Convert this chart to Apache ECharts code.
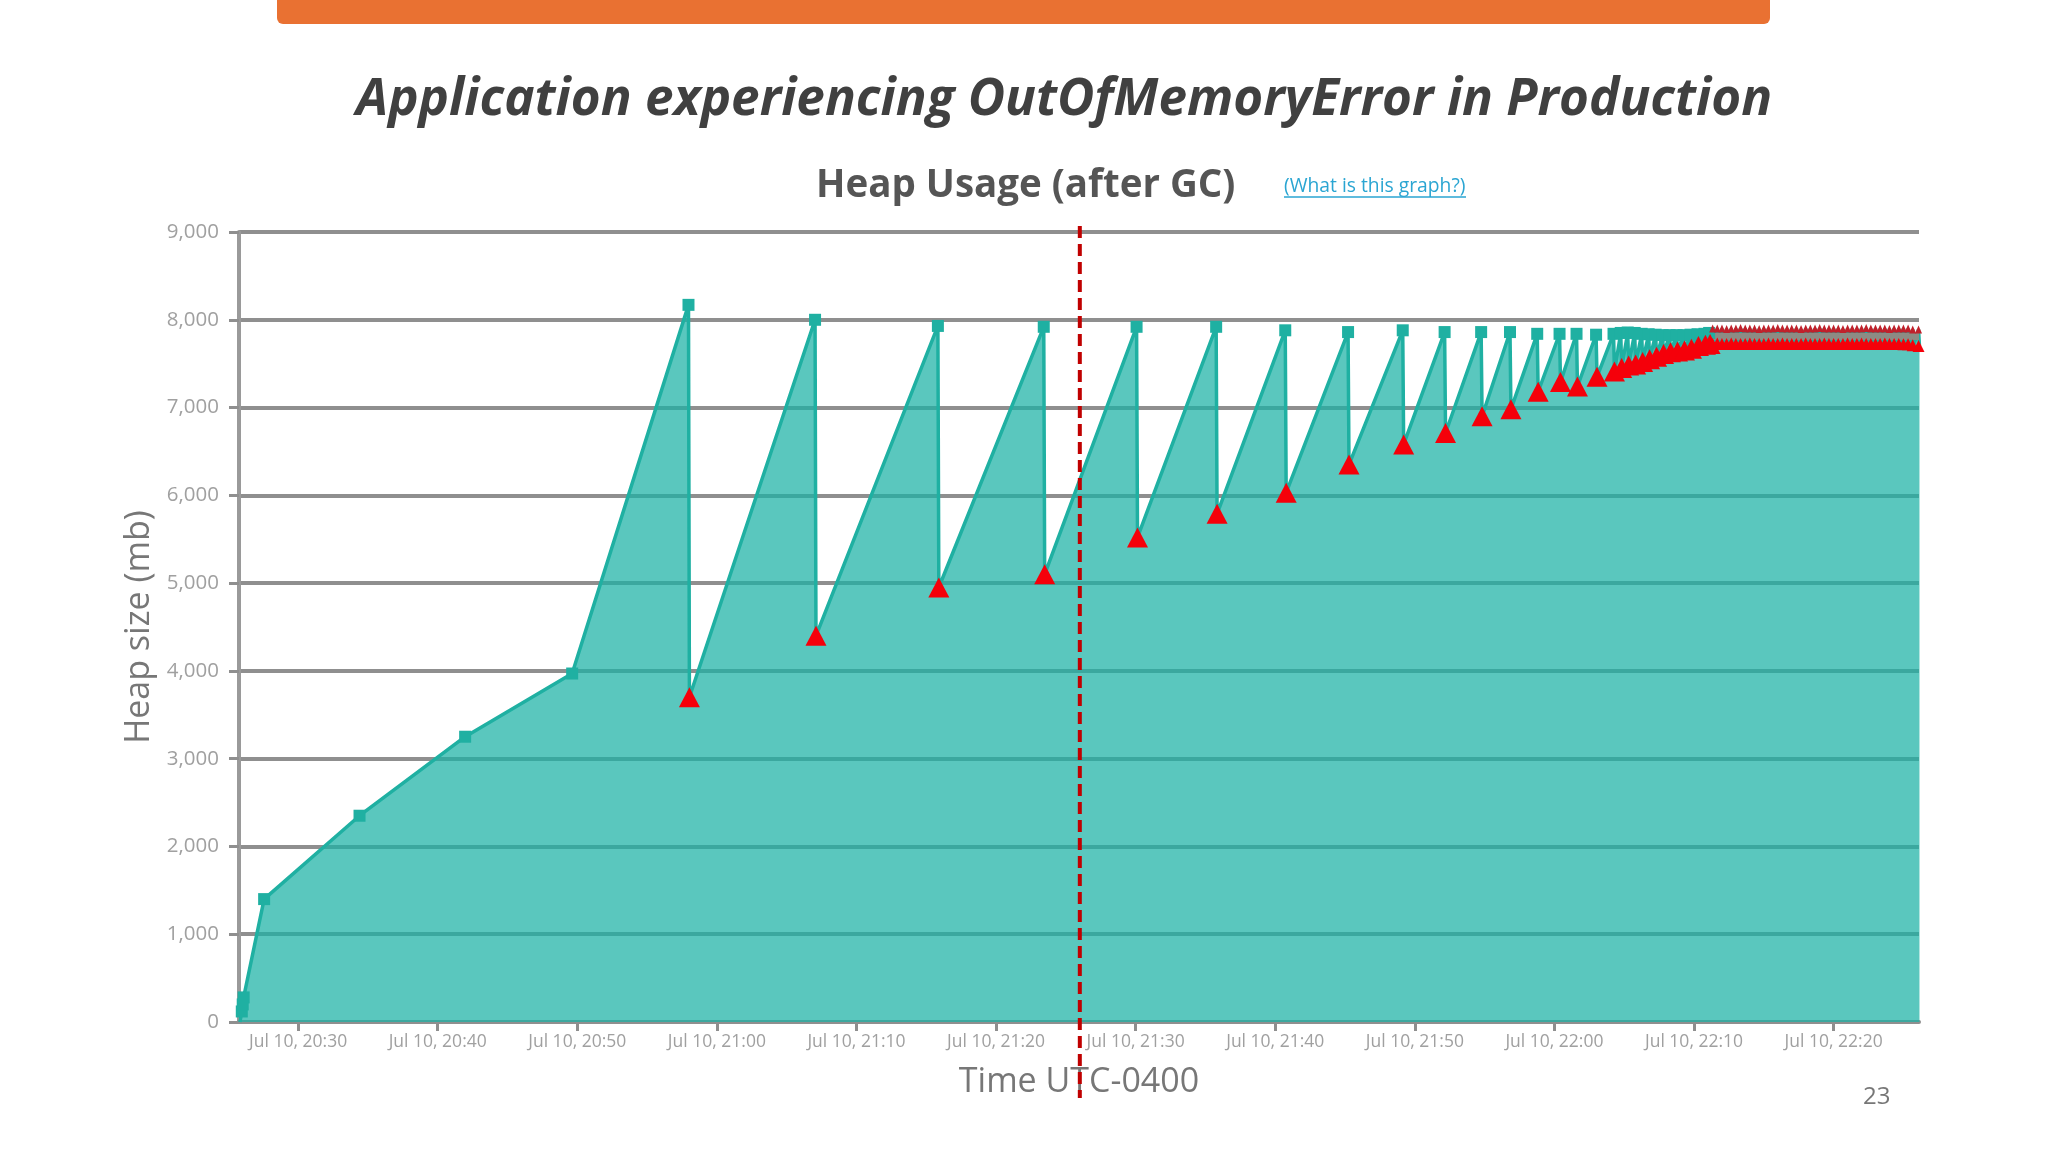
<!DOCTYPE html>
<html>
<head>
<meta charset="utf-8">
<style>
  html, body { margin: 0; padding: 0; background: #fff; }
  #myChart { width: 2048px; height: 1152px; }
</style>
<script src="https://cdn.jsdelivr.net/npm/echarts@6/dist/echarts.min.js"></script>
</head>
<body>
<div id="myChart"></div>
<script>
const DAY = "2023-07-10T";
const AXIS_START = "20:25:46";
const AXIS_END = "22:26:07";
const MARKER_TIME = "21:26:00";

const xTickTimes = [
    "20:30:00", "20:40:00", "20:50:00", "21:00:00", "21:10:00", "21:20:00",
    "21:30:00", "21:40:00", "21:50:00", "22:00:00", "22:10:00", "22:20:00",
];
const yTicks = { min: 0, max: 9000, step: 1000 };

// readings before GC
const heapTimes = [
    "20:25:50", "20:25:58", "20:26:02", "20:26:06", "20:27:34", "20:34:24", "20:41:58", "20:49:38",
    "20:57:58", "21:07:02", "21:15:50", "21:23:25", "21:30:04", "21:35:46", "21:40:43", "21:45:13",
    "21:49:08", "21:52:08", "21:54:45", "21:56:49", "21:58:46", "22:00:22", "22:01:35", "22:02:59",
    "22:04:14", "22:04:45", "22:05:15", "22:05:45", "22:06:15", "22:06:45", "22:07:15", "22:07:45",
    "22:08:15", "22:08:45", "22:09:15", "22:09:45", "22:10:15", "22:10:45", "22:11:05",
];
const heapValues = [
    0, 120, 200, 280, 1400, 2350, 3250, 3970,
    8170, 8000, 7930, 7920, 7920, 7920, 7880, 7860,
    7880, 7860, 7860, 7860, 7840, 7840, 7840, 7830,
    7840, 7850, 7855, 7850, 7840, 7835, 7830, 7825,
    7825, 7825, 7825, 7830, 7835, 7840, 7850,
];

// readings after GC (triangles)
const gcTimes = [
    "20:58:02", "21:07:06", "21:15:54", "21:23:29", "21:30:08", "21:35:50", "21:40:47", "21:45:17",
    "21:49:12", "21:52:12", "21:54:49", "21:56:53", "21:58:50", "22:00:26", "22:01:39", "22:03:03",
    "22:04:18", "22:04:49", "22:05:19", "22:05:49", "22:06:19", "22:06:49", "22:07:19", "22:07:49",
    "22:08:19", "22:08:49", "22:09:19", "22:09:49", "22:10:19", "22:10:49", "22:11:09",
];
const gcValues = [
    3700, 4400, 4950, 5100, 5520, 5790, 6030, 6350,
    6580, 6710, 6900, 6980, 7180, 7290, 7240, 7350,
    7410, 7450, 7480, 7490, 7520, 7550, 7580, 7610,
    7630, 7640, 7650, 7670, 7700, 7715, 7725,
];

// flat part at the end, one peak and one low per reading
const tailTimes = [
    "22:11:20", "22:11:40", "22:12:00", "22:12:20", "22:12:40", "22:13:00", "22:13:20", "22:13:40",
    "22:14:00", "22:14:20", "22:14:40", "22:15:00", "22:15:20", "22:15:40", "22:16:00", "22:16:20",
    "22:16:40", "22:17:00", "22:17:20", "22:17:40", "22:18:00", "22:18:20", "22:18:40", "22:19:00",
    "22:19:20", "22:19:40", "22:20:00", "22:20:20", "22:20:40", "22:21:00", "22:21:20", "22:21:40",
    "22:22:00", "22:22:20", "22:22:40", "22:23:00", "22:23:20", "22:23:40", "22:24:00", "22:24:20",
    "22:24:40", "22:25:00", "22:25:20", "22:25:40", "22:26:05",
];
const tailPeaks = [
    7900, 7900, 7900, 7895, 7900, 7900, 7905, 7900, 7900, 7900, 7895, 7900, 7900, 7900, 7905,
    7900, 7900, 7900, 7900, 7895, 7900, 7900, 7900, 7905, 7900, 7900, 7900, 7900, 7895, 7900,
    7900, 7900, 7900, 7905, 7900, 7900, 7900, 7900, 7895, 7900, 7900, 7900, 7900, 7890, 7890,
];
const tailLows = [
    7725, 7730, 7725, 7725, 7730, 7725, 7725, 7725, 7730, 7725, 7725, 7725, 7730, 7725, 7725,
    7730, 7725, 7725, 7725, 7725, 7730, 7725, 7725, 7725, 7730, 7725, 7725, 7725, 7725, 7730,
    7725, 7725, 7730, 7725, 7725, 7725, 7725, 7730, 7725, 7725, 7725, 7720, 7720, 7710, 7700,
];

const toMs = (t) => new Date(DAY + t).getTime();
const pairs = (times, values) => times.map((t, i) => [toMs(t), values[i]]);

// heap line runs through every reading, the peak comes first at each drop
const heapLine = [
    ...pairs(heapTimes, heapValues),
    ...pairs(gcTimes, gcValues),
].sort((a, b) => a[0] - b[0]);
tailTimes.forEach((t, i) => {
    heapLine.push([toMs(t), tailPeaks[i]]);
    heapLine.push([toMs(t) + 4000, tailLows[i]]);
});

const pad = (n) => String(n).padStart(2, "0");
const xTicks = xTickTimes.map(toMs);

const myChart = echarts.init(document.getElementById("myChart"), null, {
    width: 2048,
    height: 1152,
});

const options = {
    animation: false,
    backgroundColor: "#fff",
    title: [
        {
            text: "Application experiencing OutOfMemoryError in Production",
            left: 351,
            top: 70,
            textStyle: {
                fontFamily: "Open Sans",
                fontSize: 51.2,
                fontWeight: "bold",
                fontStyle: "italic",
                color: "#404040",
            },
        },
        {
            text: "Heap Usage (after GC)",
            left: 811,
            top: 162,
            textStyle: {
                fontFamily: "Open Sans",
                fontSize: 38.5,
                fontWeight: "bold",
                color: "#555",
            },
        },
    ],
    grid: { left: 239, right: 129, top: 232, bottom: 130 },
    xAxis: {
        type: "value",
        min: toMs(AXIS_START),
        max: toMs(AXIS_END),
        name: "Time UTC-0400",
        nameLocation: "middle",
        nameGap: 43,
        nameTextStyle: { fontFamily: "Open Sans", fontSize: 34, color: "#777" },
        axisLine: { lineStyle: { color: "#8f8f8f", width: 4 } },
        axisTick: { customValues: xTicks, length: 9, lineStyle: { color: "#8f8f8f", width: 3 } },
        splitLine: { show: false },
        axisLabel: {
            customValues: xTicks,
            fontFamily: "Open Sans",
            fontSize: 17.5,
            color: "#a0a0a0",
            margin: 11,
            hideOverlap: false,
            formatter: (v) => {
                const d = new Date(v);
                return "Jul " + d.getDate() + ", " + pad(d.getHours()) + ":" + pad(d.getMinutes());
            },
        },
    },
    yAxis: {
        type: "value",
        min: yTicks.min,
        max: yTicks.max,
        interval: yTicks.step,
        name: "Heap size (mb)",
        nameLocation: "middle",
        nameGap: 82,
        nameTextStyle: { fontFamily: "Open Sans", fontSize: 34, color: "#777" },
        axisLine: { show: true, lineStyle: { color: "#9a9a9a", width: 4 } },
        axisTick: { show: true, length: 10, lineStyle: { color: "#8f8f8f", width: 3 } },
        axisLabel: {
            fontFamily: "Open Sans",
            fontSize: 20.5,
            color: "#a0a0a0",
            margin: 20,
            formatter: (v) => v.toLocaleString("en-US"),
        },
        splitLine: { show: true, lineStyle: { color: "#8f8f8f", width: 4 } },
    },
    series: [
        {
            name: "Heap",
            type: "line",
            data: heapLine,
            showSymbol: false,
            lineStyle: { color: "#1fb0a2", width: 3.5 },
            itemStyle: { color: "#1fb0a2" },
            areaStyle: { color: "#1ab2a5", opacity: 0.72 },
            z: 2,
        },
        {
            name: "Before GC",
            type: "scatter",
            data: pairs(heapTimes, heapValues).slice(1),
            symbol: "rect",
            symbolSize: 12,
            itemStyle: { color: "#1fb0a2", opacity: 1 },
            z: 3,
        },
        {
            name: "Tail band",
            type: "line",
            data: [
                [toMs("22:10:00"), 7810],
                [toMs("22:26:07"), 7810],
            ],
            showSymbol: false,
            lineStyle: { color: "#8c8c84", width: 7 },
            z: 3,
        },
        {
            name: "Tail peaks",
            type: "scatter",
            data: pairs(tailTimes, tailPeaks),
            symbol: "triangle",
            symbolSize: [7, 8],
            itemStyle: { color: "#c0212b", opacity: 1 },
            z: 4,
        },
        {
            name: "After GC",
            type: "scatter",
            data: pairs(gcTimes, gcValues),
            symbol: "triangle",
            symbolSize: [21, 20],
            itemStyle: { color: "#f5000a", opacity: 1 },
            z: 5,
        },
        {
            name: "Tail lows",
            type: "scatter",
            data: pairs(tailTimes, tailLows),
            symbol: "triangle",
            symbolSize: [12, 12],
            itemStyle: { color: "#f5000a", opacity: 1 },
            z: 5,
        },
    ],
};

myChart.setOption(options);

// slide furniture, the dashed line follows the time axis
const markerX = myChart.convertToPixel({ xAxisIndex: 0 }, toMs(MARKER_TIME));
myChart.setOption({
    graphic: [
        {
            type: "rect",
            shape: { x: 277, y: -10, width: 1493, height: 34, r: 6 },
            style: { fill: "#e97132" },
        },
        {
            type: "text",
            x: 1284,
            y: 177,
            style: {
                text: "(What is this graph?)",
                fontFamily: "Open Sans",
                fontSize: 19.3,
                fill: "#2aa5d2",
            },
        },
        {
            type: "line",
            shape: { x1: 1284, y1: 197, x2: 1466, y2: 197 },
            style: { stroke: "#2aa5d2", lineWidth: 1.5 },
        },
        {
            type: "line",
            z: 10,
            shape: { x1: markerX, y1: 226, x2: markerX, y2: 1098 },
            style: { stroke: "#c00000", lineWidth: 4, lineDash: [12, 6] },
        },
        {
            type: "text",
            x: 1863,
            y: 1085,
            style: {
                text: "23",
                fontFamily: "Open Sans",
                fontSize: 24,
                fill: "#777",
            },
        },
    ],
});
</script>
</body>
</html>
